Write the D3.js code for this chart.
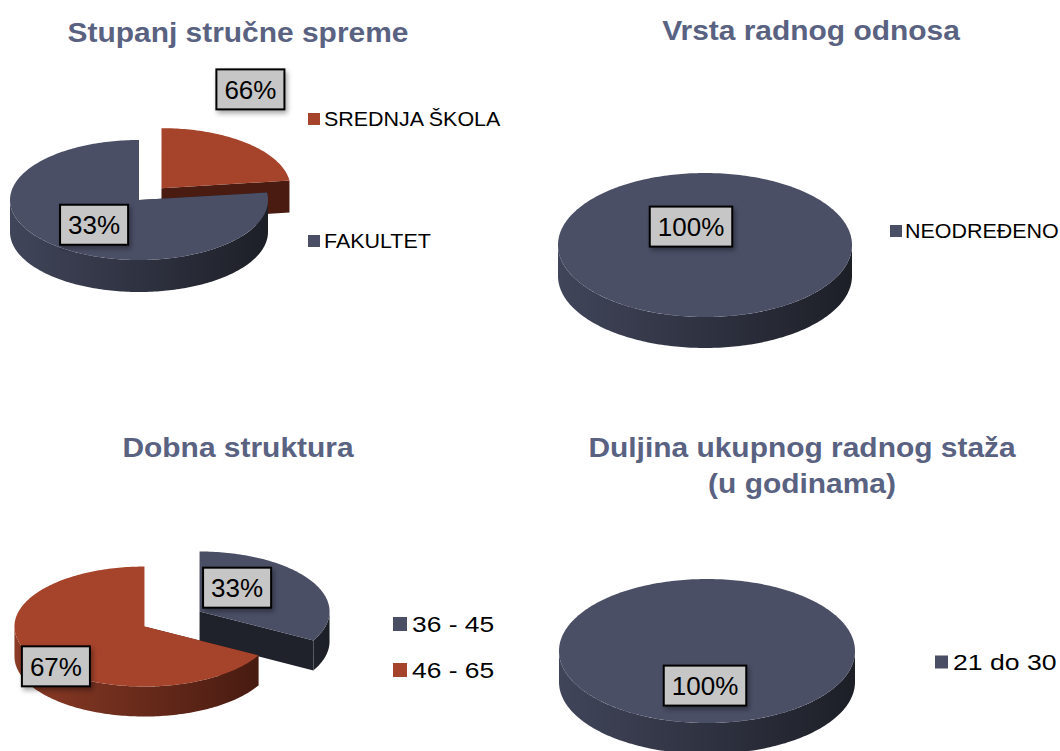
<!DOCTYPE html>
<html>
<head>
<meta charset="utf-8">
<script src="https://cdn.jsdelivr.net/npm/d3@7"></script>
<style>
  body { margin: 0; background: #fff; }
  svg text { font-family: Arial, "Liberation Sans", sans-serif; }
</style>
</head>
<body>
<svg id="chart" width="1060" height="751"></svg>
<script>
// data
const eduCategories = ['SREDNJA ŠKOLA', 'FAKULTET'];
const eduValues = [23, 77];
const eduLabels = ['66%', '33%'];

const contractCategories = ['NEODREĐENO'];
const contractValues = [100];
const contractLabels = ['100%'];

const ageCategories = ['36 - 45', '46 - 65'];
const ageValues = [33, 67];
const ageLabels = ['33%', '67%'];

const tenureCategories = ['21 do 30'];
const tenureValues = [100];
const tenureLabels = ['100%'];

const BLUE = '#4b4f66';
const RED = '#a6432b';
const sideColors = {
  [BLUE]: ['#41455a', '#1d1f27', '#1f222b'],
  [RED]: ['#8c3b26', '#43190f', '#4a1c11']
};

const charts = [
  {
    title: ['Stupanj stručne spreme'], tx: 238, ty: 42,
    categories: eduCategories, values: eduValues, labels: eduLabels,
    colors: [RED, BLUE],
    cx: 139, cy: 200, rx: 129, ry: 60, depth: 32, explode: [34, 0],
    nudge: [[42, -74], [2, 0]], labelFrac: 0.55,
    legend: { x: 308, ys: [119, 241], box: 12, font: 19.5, sx: 1.1, gap: 4 }
  },
  {
    title: ['Vrsta radnog odnosa'], tx: 811, ty: 40,
    categories: contractCategories, values: contractValues, labels: contractLabels,
    colors: [BLUE],
    cx: 705, cy: 245, rx: 147, ry: 72, depth: 31, explode: [0],
    nudge: [[-14, -58]], labelFrac: 0.55,
    legend: { x: 890, ys: [231], box: 12, font: 19.5, sx: 1.1, gap: 3 }
  },
  {
    title: ['Dobna struktura'], tx: 238, ty: 457,
    categories: ageCategories, values: ageValues, labels: ageLabels,
    colors: [BLUE, RED],
    cx: 172, cy: 619, rx: 130, ry: 60, depth: 30, explode: [32, 32],
    nudge: [[-24, -7], [-27, 23]], labelFrac: 0.55,
    legend: { x: 393, ys: [624, 670], box: 14, font: 22, sx: 1.2, gap: 5 }
  },
  {
    title: ['Duljina ukupnog radnog staža', '(u godinama)'], tx: 802, ty: 457,
    categories: tenureCategories, values: tenureValues, labels: tenureLabels,
    colors: [BLUE],
    cx: 707, cy: 651, rx: 148, ry: 72, depth: 31, explode: [0],
    nudge: [[-2, -5]], labelFrac: 0.55,
    legend: { x: 935, ys: [662], box: 13, font: 22, sx: 1.21, gap: 5 }
  }
];

const svg = d3.select('#chart');
const defs = svg.append('defs');

const shadow = defs.append('filter').attr('id', 'shadow')
  .attr('x', '-20%').attr('y', '-20%').attr('width', '150%').attr('height', '160%');
shadow.append('feDropShadow').attr('dx', 2).attr('dy', 3).attr('stdDeviation', 2.5)
  .attr('flood-color', '#000').attr('flood-opacity', 0.35);

function wallGradient(id, color, x0, x1) {
  const g = defs.append('linearGradient').attr('id', id)
    .attr('gradientUnits', 'userSpaceOnUse')
    .attr('x1', x0).attr('x2', x1).attr('y1', 0).attr('y2', 0);
  g.append('stop').attr('offset', '0%').attr('stop-color', sideColors[color][0]);
  g.append('stop').attr('offset', '100%').attr('stop-color', sideColors[color][1]);
  return `url(#${id})`;
}

const pie = d3.pie().sort(null).value(d => d);

charts.forEach((c, ci) => {
  const g = svg.append('g');

  // title (slightly wider than the installed Arial clone, like the original)
  const title = g.append('text')
    .attr('transform', `translate(${c.tx},${c.ty}) scale(1.05,1)`)
    .attr('text-anchor', 'middle')
    .style('font-size', '28.5px').style('font-weight', 'bold')
    .attr('fill', '#5a6282');
  c.title.forEach((line, i) => {
    title.append('tspan').attr('x', 0).attr('dy', i === 0 ? 0 : 36).text(line);
  });

  const k = c.ry / c.rx;
  const slices = pie(c.values).map((s, i) => {
    const mid = (s.startAngle + s.endAngle) / 2;
    const e = c.explode[i];
    const full = s.endAngle - s.startAngle > 2 * Math.PI - 1e-6;
    const ox = full ? c.cx : c.cx + Math.sin(mid) * e;
    const oy = full ? c.cy : c.cy - Math.cos(mid) * e * k;
    return { ...s, i, mid, ox, oy, full, color: c.colors[i] };
  });

  const pt = (s, a, dz = 0) => [s.ox + c.rx * Math.sin(a), s.oy - c.ry * Math.cos(a) + dz];
  const arcPts = (s, a0, a1, dz = 0) => {
    const n = Math.max(2, Math.ceil((a1 - a0) / 0.02));
    return d3.range(n + 1).map(j => pt(s, a0 + (a1 - a0) * j / n, dz));
  };
  const line = d3.line();

  // back slices first
  const order = slices.slice().sort((a, b) => (-Math.cos(a.mid)) - (-Math.cos(b.mid)));

  // sides: cut faces and outer walls
  order.forEach(s => {
    const fill = wallGradient(`wall${ci}_${s.i}`, s.color, s.ox - c.rx, s.ox + c.rx);
    if (!s.full) {
      [s.startAngle, s.endAngle].forEach(a => {
        const p = pt(s, a);
        g.append('path')
          .attr('d', line([[s.ox, s.oy], p, [p[0], p[1] + c.depth], [s.ox, s.oy + c.depth]]) + 'Z')
          .attr('fill', sideColors[s.color][2]);
      });
    }
    const a0 = Math.max(s.startAngle, Math.PI / 2);
    const a1 = Math.min(s.endAngle, 3 * Math.PI / 2);
    if (a1 > a0) {
      const top = arcPts(s, a0, a1);
      const bottom = arcPts(s, a0, a1, c.depth).reverse();
      g.append('path').attr('d', line(top.concat(bottom)) + 'Z').attr('fill', fill);
    }
  });

  // top faces
  order.forEach(s => {
    const pts = arcPts(s, s.startAngle, s.endAngle);
    const d = s.full ? line(pts) + 'Z' : line([[s.ox, s.oy]].concat(pts)) + 'Z';
    g.append('path').attr('d', d).attr('fill', s.color);
  });

  // data labels
  slices.forEach(s => {
    const r = c.labelFrac;
    const lx = s.ox + Math.sin(s.mid) * c.rx * r + c.nudge[s.i][0];
    const ly = s.oy - Math.cos(s.mid) * c.ry * r + c.nudge[s.i][1];
    const lab = g.append('g').attr('transform', `translate(${lx},${ly})`);
    const t = lab.append('text')
      .attr('text-anchor', 'middle').attr('dy', '0.36em')
      .style('font-size', '26px').attr('fill', '#000')
      .text(c.labels[s.i]);
    const w = t.node().getComputedTextLength() + 16;
    lab.insert('rect', 'text')
      .attr('x', -w / 2).attr('y', -20).attr('width', w).attr('height', 40)
      .attr('fill', '#c6c6c6').attr('stroke', '#000').attr('stroke-width', 2)
      .attr('filter', 'url(#shadow)');
  });

  // legend
  const L = c.legend;
  c.categories.forEach((name, i) => {
    const y = L.ys[i];
    g.append('rect')
      .attr('x', L.x).attr('y', y - L.box / 2).attr('width', L.box).attr('height', L.box)
      .attr('fill', c.colors[i]);
    g.append('text')
      .attr('transform', `translate(${L.x + L.box + L.gap},${y}) scale(${L.sx},1)`)
      .attr('dy', '0.36em')
      .style('font-size', `${L.font}px`).attr('fill', '#000')
      .text(name);
  });
});
</script>
</body>
</html>
